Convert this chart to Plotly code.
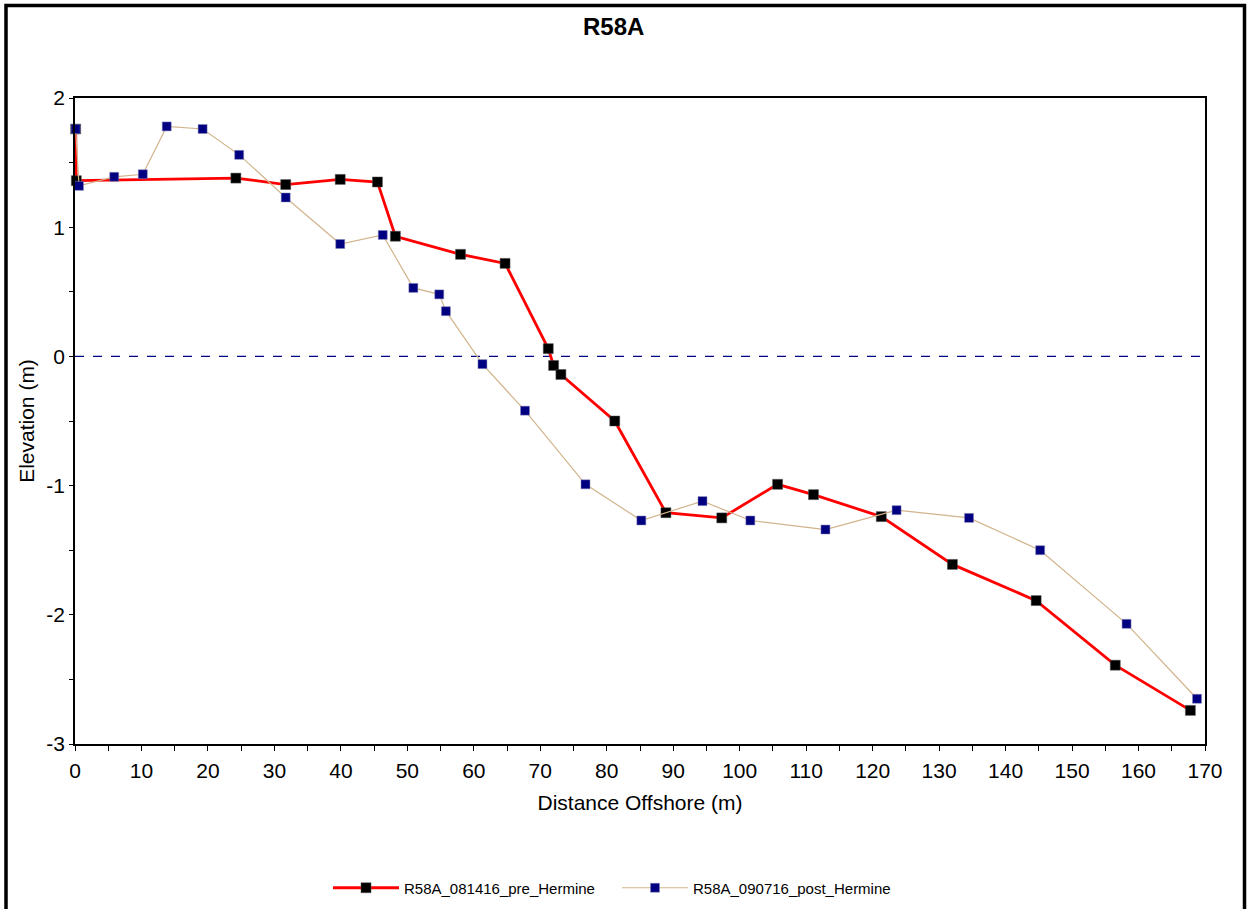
import plotly.graph_objects as go

pre_name = "R58A_081416_pre_Hermine"
post_name = "R58A_090716_post_Hermine"

pre_x = [0.1, 0.2, 24.2, 31.7, 39.9, 45.5, 48.2, 58.0, 64.7, 71.2, 72.0, 73.1,
         81.2, 88.9, 97.3, 105.7, 111.1, 121.3, 132.0, 144.6, 156.5, 167.8]
pre_y = [1.76, 1.36, 1.38, 1.33, 1.37, 1.35, 0.93, 0.79, 0.72, 0.06, -0.07, -0.14,
         -0.50, -1.21, -1.25, -0.99, -1.07, -1.24, -1.61, -1.89, -2.39, -2.74]

post_x = [0.1, 0.6, 5.9, 10.2, 13.8, 19.2, 24.7, 31.7, 39.9, 46.3, 50.9, 54.8,
          55.8, 61.3, 67.7, 76.8, 85.2, 94.4, 101.6, 112.9, 123.6, 134.5,
          145.2, 158.2, 168.8]
post_y = [1.76, 1.32, 1.39, 1.41, 1.78, 1.76, 1.56, 1.23, 0.87, 0.94, 0.53, 0.48,
          0.35, -0.06, -0.42, -0.99, -1.27, -1.12, -1.27, -1.34, -1.19, -1.25,
          -1.50, -2.07, -2.65]

x_range = [0, 170]
y_range = [-3, 2]
y_tickvals = [2, 1, 0, -1, -2, -3]
y_ticktext = ["2", "1", "0", "-1", "-2", "-3"]

FONT = "Liberation Sans, Arial, sans-serif"

fig = go.Figure()
fig.add_trace(go.Scatter(
    x=pre_x, y=pre_y, mode="lines+markers", name=pre_name,
    line=dict(color="#FF0000", width=2.8),
    marker=dict(symbol="square", size=10, color="#000000",
                line=dict(color="#555555", width=0.5)),
    cliponaxis=False,
))
fig.add_trace(go.Scatter(
    x=post_x, y=post_y, mode="lines+markers", name=post_name,
    line=dict(color="#D2B48C", width=1.2),
    marker=dict(symbol="square", size=9, color="#000080",
                line=dict(color="#8888bb", width=0.5)),
    cliponaxis=False,
))

fig.add_shape(type="line", xref="x", yref="y", x0=0, x1=170, y0=0, y1=0,
              line=dict(color="#000080", width=1.2, dash="dash"), layer="below")

# outer frame
fig.add_shape(type="rect", xref="paper", yref="paper",
              x0=(6 - 75) / 1130, x1=(1244.5 - 75) / 1130,
              y0=-0.4, y1=(744 - 5.5) / 646,
              line=dict(color="#000000", width=3.5))

fig.add_annotation(text="<b>R58A</b>", xref="paper", yref="paper",
                   x=(613 - 75) / 1130, y=(744 - 26) / 646, showarrow=False,
                   font=dict(family=FONT, size=24, color="#000000"),
                   xanchor="center", yanchor="middle")

fig.update_layout(
    width=1248, height=909,
    margin=dict(l=75, r=43, t=98, b=165, autoexpand=False),
    paper_bgcolor="white", plot_bgcolor="white",
    font=dict(family=FONT, size=20, color="#000000"),
    showlegend=True,
    legend=dict(orientation="h", x=(328 - 75) / 1130, y=(744 - 888) / 646,
                xanchor="left", yanchor="middle",
                font=dict(family=FONT, size=15, color="#000000"),
                itemwidth=66, tracegroupgap=0, entrywidth=208),
    xaxis=dict(range=x_range, dtick=10, tick0=0, showgrid=False, zeroline=False,
               showline=True, linecolor="#000000", linewidth=1.5, mirror=True,
               ticks="outside", ticklen=5, tickcolor="#000000",
               ticklabelstandoff=2, automargin=False,
               minor=dict(dtick=5, ticks="outside", ticklen=5, tickcolor="#000000"),
               title=dict(text="Distance Offshore (m)", standoff=14,
                          font=dict(family=FONT, size=21)),
               tickfont=dict(family=FONT, size=21)),
    yaxis=dict(range=y_range, tickvals=y_tickvals, ticktext=y_ticktext,
               showgrid=False, zeroline=False, automargin=False,
               showline=True, linecolor="#000000", linewidth=1.5, mirror=True,
               ticks="outside", ticklen=4, tickcolor="#000000",
               minor=dict(dtick=0.5, ticks="outside", ticklen=4, tickcolor="#000000"),
               title=dict(text="Elevation (m)", standoff=6,
                          font=dict(family=FONT, size=21)),
               tickfont=dict(family=FONT, size=21)),
)

fig.write_html("out.html", config={"displayModeBar": False},
               post_script="document.body.style.margin='0px';")
